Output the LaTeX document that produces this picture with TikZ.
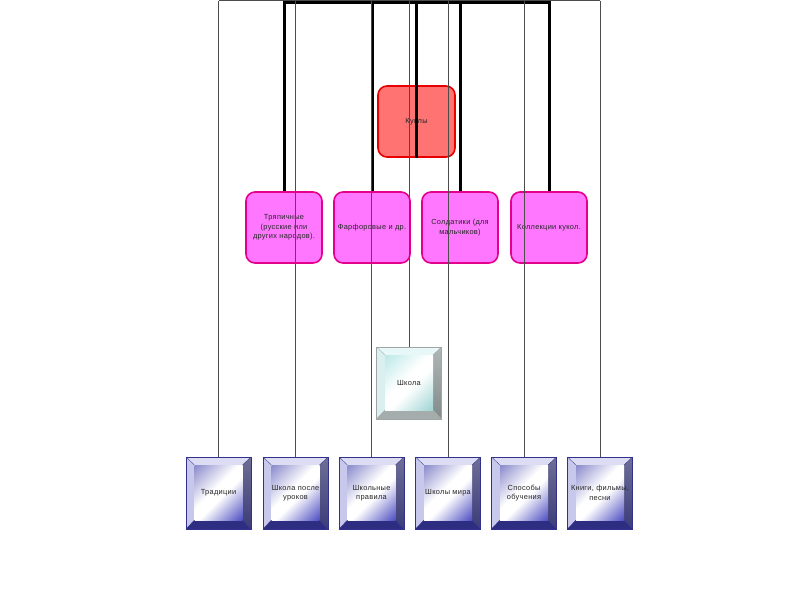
\documentclass[tikz,border=0pt]{standalone}
\usepackage{fontspec}
\setmainfont{Liberation Sans}
\usetikzlibrary{calc,shadings}
\definecolor{pinkfill}{HTML}{FF77FF}
\definecolor{pinkdraw}{HTML}{E2008C}
\definecolor{redfill}{HTML}{FF7373}
\definecolor{reddraw}{HTML}{E80000}
\definecolor{bTop}{RGB}{220,220,242}
\definecolor{bLeft}{RGB}{200,200,236}
\definecolor{bRightA}{RGB}{110,110,150}
\definecolor{bRightB}{RGB}{60,60,120}
\definecolor{bBottom}{RGB}{45,45,130}
\definecolor{bFaceA}{RGB}{140,140,205}
\definecolor{bFaceB}{RGB}{80,80,195}
\definecolor{bBorder}{RGB}{50,50,140}
\definecolor{cTop}{RGB}{232,248,248}
\definecolor{cLeft}{RGB}{218,240,240}
\definecolor{cRightA}{RGB}{175,182,182}
\definecolor{cRightB}{RGB}{130,138,138}
\definecolor{cBottom}{RGB}{165,172,172}
\definecolor{cFaceA}{RGB}{190,232,232}
\definecolor{cFaceB}{RGB}{160,212,212}
\definecolor{cBorder}{RGB}{160,165,165}
\pgfdeclareverticalshading{bvfaceblue}{100bp}{color(0bp)=(bFaceB); color(15bp)=(bFaceB); color(45bp)=(white); color(55bp)=(white); color(85bp)=(bFaceA); color(100bp)=(bFaceA)}
\pgfdeclareverticalshading{bvfacecyan}{100bp}{color(0bp)=(cFaceB); color(15bp)=(cFaceB); color(45bp)=(white); color(55bp)=(white); color(85bp)=(cFaceA); color(100bp)=(cFaceA)}
\tikzset{
  txt/.style={font=\fontsize{7.4}{9.5}\selectfont\addfontfeatures{LetterSpace=4}, text=black!85, align=center},
  rbox/.style={txt, rounded corners=9pt, line width=1.6pt, minimum width=76pt, minimum height=71pt, inner sep=1pt},
  pinkbox/.style={rbox, fill=pinkfill, draw=pinkdraw},
  redbox/.style={rbox, fill=redfill, draw=reddraw, minimum width=77pt},
  bvnode/.style={txt, minimum width=65pt, minimum height=72pt, inner sep=1pt},
  thickline/.style={line width=3pt, black},
  thinline/.style={line width=0.8pt, black!70},
  % blue bevel scheme
  bluetop/.style={fill=bTop},
  blueleft/.style={fill=bLeft},
  blueright/.style={top color=bRightA, bottom color=bRightB},
  bluebottom/.style={fill=bBottom},
  blueface/.style={shading=bvfaceblue, shading angle=45},
  blueborder/.style={draw=bBorder, line width=0.6pt},
  % cyan bevel scheme
  cyantop/.style={fill=cTop},
  cyanleft/.style={fill=cLeft},
  cyanright/.style={top color=cRightA, bottom color=cRightB},
  cyanbottom/.style={fill=cBottom},
  cyanface/.style={shading=bvfacecyan, shading angle=45},
  cyanborder/.style={draw=cBorder, line width=0.6pt},
}
% #1 name, #2 cx, #3 cy, #4 scheme, #5 text
\newcommand\bvbox[5]{%
  \begin{scope}[shift={(#2,#3)}]
    \fill[#4top] (-32.5,-36) -- (32.5,-36) -- (24,-28) -- (-24,-28) -- cycle;
    \fill[#4left] (-32.5,-36) -- (-24,-28) -- (-24,27) -- (-32.5,36) -- cycle;
    \shade[#4right] (32.5,-36) -- (24,-28) -- (24,27) -- (32.5,36) -- cycle;
    \fill[#4bottom] (-32.5,36) -- (-24,27) -- (24,27) -- (32.5,36) -- cycle;
    \shade[#4face] (-24,-28) rectangle (24,27);
    \draw[#4border] (-32.5,-36) rectangle (32.5,36);
    \draw[#4border, line width=0.3pt] (-32.5,-36) -- (-24,-28) (32.5,-36) -- (24,-28) (-32.5,36) -- (-24,27) (32.5,36) -- (24,27);
  \end{scope}
  \node[bvnode] (#1) at (#2,#3) {#5};%
}
\begin{document}
\begin{tikzpicture}[x=1pt,y=-1pt]
\useasboundingbox (0,0) rectangle (800,600);
\fill[white] (0,0) rectangle (800,600);

% top reference coordinates
\coordinate (tl) at (0,0.6);
\coordinate (tb) at (0,2.5);

% boxes
\node[redbox] (ku) at (416.5,121.5) {Куклы};
\node[pinkbox] (tr) at (284,227.5) {Тряпичные\\(русские или\\других народов).};
\node[pinkbox] (fa) at (372,227.5) {Фарфоровые и др.};
\node[pinkbox] (so) at (460,227.5) {Солдатики (для\\мальчиков)};
\node[pinkbox] (ko) at (549,227.5) {Коллекции кукол.};

\bvbox{sh}{409}{383}{cyan}{Школа}
\bvbox{b1}{218.5}{493}{blue}{Традиции}
\bvbox{b2}{295.5}{493}{blue}{Школа после\\уроков}
\bvbox{b3}{371.5}{493}{blue}{Школьные\\правила}
\bvbox{b4}{448}{493}{blue}{Школы мира}
\bvbox{b5}{524}{493}{blue}{Способы\\обучения}
\bvbox{b6}{600}{493}{blue}{Книги, фильмы,\\песни}

% thick connectors
\draw[thickline] (tr.north) -- (tr.north |- tb);
\draw[thickline] (fa.north) -- (fa.north |- tb);
\draw[thickline] (so.north) -- (so.north |- tb);
\draw[thickline] (ko.north) -- (ko.north |- tb);
\draw[thickline, line cap=rect] ([xshift=0.5pt]tr.north |- tb) -- (ko.north |- tb);

% thin connectors
\draw[thinline] (b1.north |- tl) -- (b6.north |- tl);
\foreach \b in {b1,b2,b3,b4,b5,b6,sh}{
  \draw[thinline] (\b.north) -- (\b.north |- tl);
}
\draw[thickline] (ku.south) -- (ku.south |- tb);
\end{tikzpicture}
\end{document}
